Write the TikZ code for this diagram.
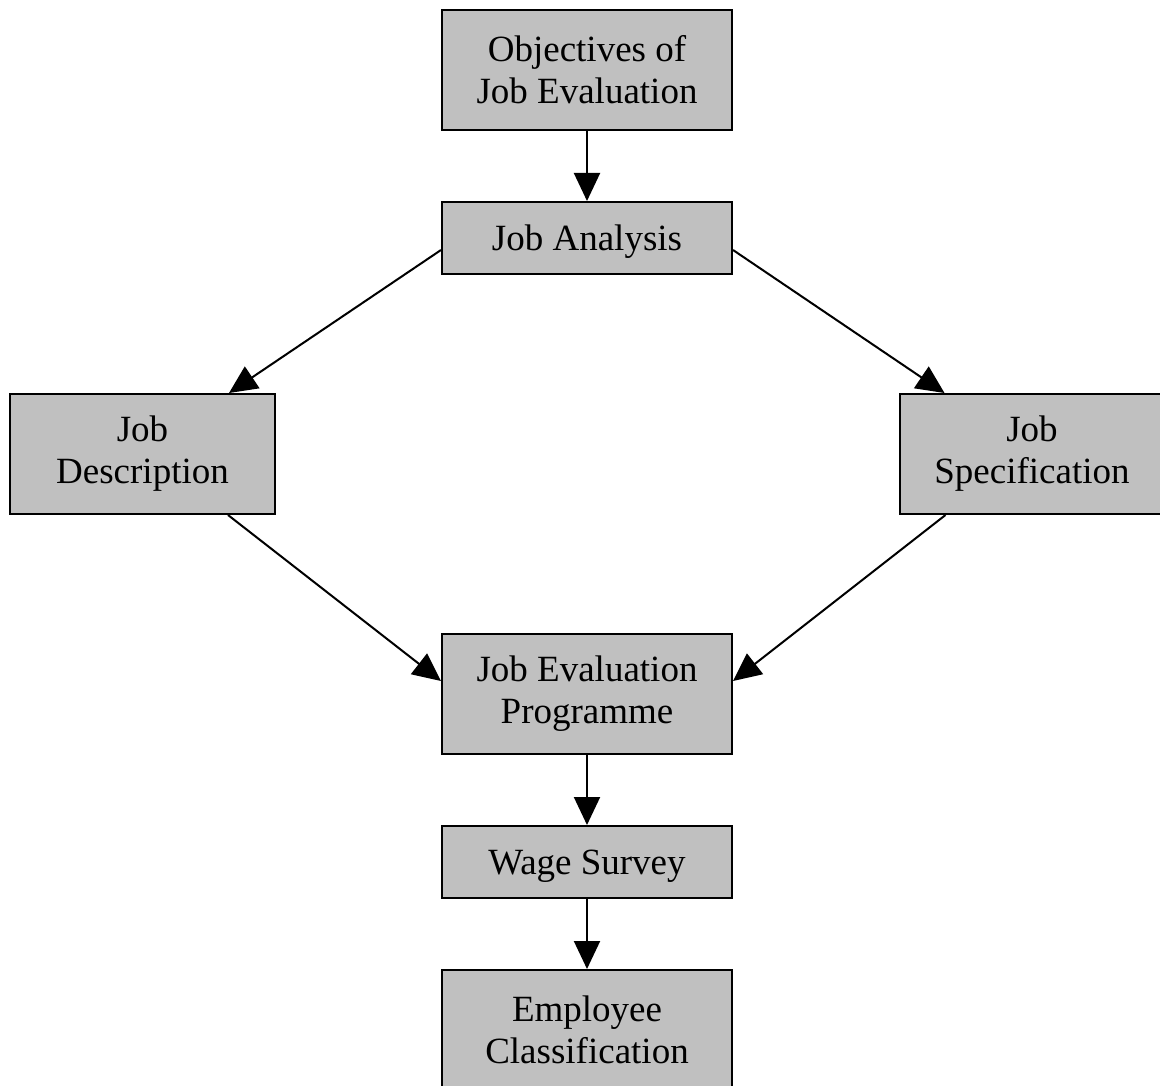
\documentclass[tikz,border=0pt]{standalone}
\usepackage{fontspec}
\setmainfont{Liberation Serif}
\usetikzlibrary{arrows.meta,calc}
\begin{document}
\begin{tikzpicture}[x=1pt,y=-1pt,
  stepbox/.style={draw=black,line width=2pt,fill={rgb,255:red,192;green,192;blue,192},
    rectangle,inner sep=0pt,align=center,
    font=\fontsize{37}{42}\selectfont},
  onelinebox/.style={stepbox,minimum width=290pt,minimum height=72pt,text depth=0pt},
  flow/.style={line width=2pt,-{Triangle[length=28pt,width=26pt]}}]
\useasboundingbox (0,0) rectangle (1160,1086);
\clip (0,0) rectangle (1160,1086);
% process boxes
\node[stepbox,minimum width=290pt,minimum height=120pt] (obj) at (587,70) {Objectives of\\Job Evaluation};
\node[onelinebox] (ja) at (587,238) {Job Analysis};
\node[stepbox,minimum width=265pt,minimum height=120pt] (jd) at (142.5,454) {Job\\Description};
\node[stepbox,minimum width=265pt,minimum height=120pt] (js) at (1032,454) {Job\\Specification};
\node[stepbox,minimum width=290pt,minimum height=120pt] (jep) at (587,694) {Job Evaluation\\Programme};
\node[onelinebox] (ws) at (587,862) {Wage Survey};
\node[stepbox,minimum width=290pt,minimum height=120pt] (ec) at (587,1030) {Employee\\Classification};
% connectors
\draw[flow] (obj.south) -- (ja.north);
\draw[flow] ($(ja.west)+(0,12)$) -- ($(jd.north east)+(-47,0)$);
\draw[flow] ($(ja.east)+(0,12)$) -- ($(js.north west)+(46,0)$);
\draw[flow] ($(jd.south east)+(-48,0)$) -- ($(jep.west)+(0,-13)$);
\draw[flow] ($(js.south west)+(47,0)$) -- ($(jep.east)+(0,-13)$);
\draw[flow] (jep.south) -- (ws.north);
\draw[flow] (ws.south) -- (ec.north);
\end{tikzpicture}
\end{document}
